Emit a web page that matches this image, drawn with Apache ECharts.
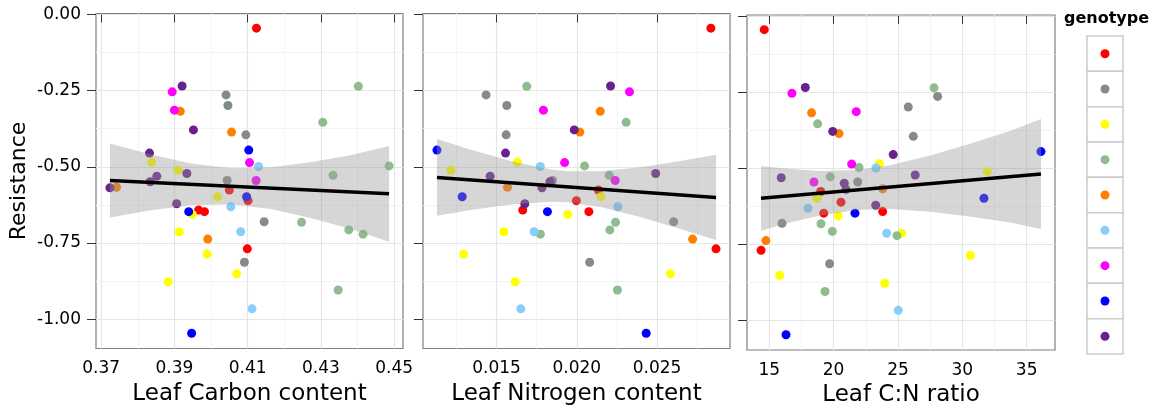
<!DOCTYPE html>
<html><head><meta charset="utf-8">
<script src="https://cdn.jsdelivr.net/npm/echarts@6/dist/echarts.min.js"></script>
<style>html,body{margin:0;padding:0;background:#fff}#c{width:1165px;height:414px}</style>
</head><body><div id="c"></div>
<script>
// ---------------- data ----------------
const genotypes = ['1', '2', '3', '4', '5', '6', '7', '8', '9'];
const genotypeColors = ['#FF0000', '#838B8B', '#FFFF00', '#8FBC8F', '#FF7F00', '#87CEFA', '#FF00FF', '#0000FF', '#68228B'];

// [x, resistance, genotype index]
const carbonPoints = [
  [0.4124,-0.045,0],[0.4050,-0.576,0],[0.4101,-0.611,0],[0.3966,-0.642,0],[0.3982,-0.647,0],[0.4099,-0.769,0],
  [0.4041,-0.264,1],[0.4046,-0.299,1],[0.4095,-0.395,1],[0.4044,-0.545,1],[0.4145,-0.680,1],[0.4091,-0.813,1],
  [0.3838,-0.485,2],[0.3910,-0.511,2],[0.4018,-0.598,2],[0.3949,-0.656,2],[0.3913,-0.713,2],[0.3989,-0.786,2],[0.4070,-0.851,2],[0.3883,-0.877,2],
  [0.4402,-0.236,3],[0.4305,-0.354,3],[0.4486,-0.497,3],[0.4333,-0.528,3],[0.4247,-0.682,3],[0.4376,-0.707,3],[0.4415,-0.721,3],[0.4347,-0.904,3],
  [0.3916,-0.318,4],[0.4056,-0.386,4],[0.3742,-0.567,4],[0.3991,-0.737,4],
  [0.4130,-0.499,5],[0.4054,-0.631,5],[0.4081,-0.713,5],[0.4112,-0.966,5],
  [0.3894,-0.254,6],[0.3900,-0.314,6],[0.4105,-0.486,6],[0.4123,-0.545,6],
  [0.4103,-0.445,7],[0.4097,-0.598,7],[0.3939,-0.647,7],[0.3947,-1.046,7],
  [0.3921,-0.235,8],[0.3952,-0.379,8],[0.3832,-0.455,8],[0.3934,-0.522,8],[0.3852,-0.531,8],[0.3834,-0.549,8],[0.3724,-0.569,8],[0.3906,-0.621,8]
];
const nitrogenPoints = [
  [0.02835,-0.045,0],[0.02134,-0.576,0],[0.01997,-0.611,0],[0.01663,-0.642,0],[0.02075,-0.647,0],[0.02867,-0.769,0],
  [0.01435,-0.264,1],[0.01564,-0.299,1],[0.01560,-0.395,1],[0.01848,-0.545,1],[0.02603,-0.680,1],[0.02080,-0.813,1],
  [0.01630,-0.485,2],[0.01216,-0.511,2],[0.02150,-0.598,2],[0.01943,-0.656,2],[0.01545,-0.713,2],[0.01295,-0.786,2],[0.02583,-0.851,2],[0.01616,-0.877,2],
  [0.01688,-0.236,3],[0.02307,-0.354,3],[0.02048,-0.497,3],[0.02202,-0.528,3],[0.02241,-0.682,3],[0.02206,-0.707,3],[0.01773,-0.721,3],[0.02253,-0.904,3],
  [0.02146,-0.318,4],[0.02019,-0.386,4],[0.01568,-0.567,4],[0.02721,-0.737,4],
  [0.01773,-0.499,5],[0.02255,-0.631,5],[0.01734,-0.713,5],[0.01651,-0.966,5],
  [0.02328,-0.254,6],[0.01792,-0.314,6],[0.01924,-0.486,6],[0.02239,-0.545,6],
  [0.01129,-0.445,7],[0.01286,-0.598,7],[0.01817,-0.647,7],[0.02432,-1.046,7],
  [0.02210,-0.235,8],[0.01984,-0.379,8],[0.01556,-0.455,8],[0.02491,-0.522,8],[0.01460,-0.531,8],[0.01833,-0.549,8],[0.01783,-0.569,8],[0.01676,-0.621,8]
];
const cnPoints = [
  [14.61,-0.045,0],[19.00,-0.576,0],[20.57,-0.611,0],[23.81,-0.642,0],[19.23,-0.647,0],[14.36,-0.769,0],
  [28.08,-0.264,1],[25.80,-0.299,1],[26.19,-0.395,1],[21.87,-0.545,1],[15.99,-0.680,1],[19.69,-0.813,1],
  [23.55,-0.485,2],[31.94,-0.511,2],[18.71,-0.598,2],[20.36,-0.656,2],[25.29,-0.713,2],[30.62,-0.786,2],[15.81,-0.851,2],[23.97,-0.877,2],
  [27.80,-0.236,3],[18.76,-0.354,3],[21.97,-0.497,3],[19.74,-0.528,3],[19.02,-0.682,3],[19.90,-0.707,3],[24.92,-0.721,3],[19.33,-0.904,3],
  [18.29,-0.318,4],[20.42,-0.386,4],[23.81,-0.567,4],[14.74,-0.737,4],
  [23.29,-0.499,5],[18.01,-0.631,5],[24.12,-0.713,5],[25.02,-0.966,5],
  [16.76,-0.254,6],[21.76,-0.314,6],[21.40,-0.486,6],[18.47,-0.545,6],
  [36.11,-0.445,7],[31.68,-0.598,7],[21.66,-0.647,7],[16.30,-1.046,7],
  [17.80,-0.235,8],[19.93,-0.379,8],[24.63,-0.455,8],[26.34,-0.522,8],[15.93,-0.531,8],[20.83,-0.549,8],[20.96,-0.569,8],[23.27,-0.621,8]
];

// confidence band: [x, upper, lower]
const carbonBand = [[0.3724,-0.4234,-0.6659],[0.3836,-0.4599,-0.6426],[0.3945,-0.4890,-0.6259],[0.4054,-0.5048,-0.6227],[0.4163,-0.5015,-0.6384],[0.4271,-0.4848,-0.6675],[0.4380,-0.4618,-0.7029],[0.4486,-0.4320,-0.7460]];
const nitrogenBand = [[0.01129,-0.4091,-0.6607],[0.01340,-0.4438,-0.6417],[0.01589,-0.4812,-0.6233],[0.01837,-0.5090,-0.6145],[0.01943,-0.5149,-0.6164],[0.02148,-0.5149,-0.6315],[0.02396,-0.5011,-0.6643],[0.02645,-0.4808,-0.7036],[0.02867,-0.4605,-0.7403]];
const cnBand = [[14.36,-0.4920,-0.7049],[16.61,-0.5025,-0.6780],[18.94,-0.5087,-0.6548],[21.78,-0.5057,-0.6367],[24.39,-0.4900,-0.6335],[27.49,-0.4582,-0.6423],[30.60,-0.4196,-0.6580],[33.71,-0.3773,-0.6774],[36.11,-0.3383,-0.6987]];

// fitted regression lines (end points)
const carbonFit = [[0.3724,-0.5445],[0.4486,-0.5885]];
const nitrogenFit = [[0.01129,-0.5349],[0.02867,-0.6004]];
const cnFit = [[14.36,-0.5984],[36.11,-0.5184]];

// ticks
const yMajor = [0, -0.25, -0.5, -0.75, -1.0];
const yMinor = [-0.125, -0.375, -0.625, -0.875];
const carbonMajor = [0.37, 0.39, 0.41, 0.43, 0.45];
const carbonMinor = [0.38, 0.40, 0.42, 0.44];
const nitrogenMajor = [0.015, 0.020, 0.025];
const nitrogenMinor = [0.0125, 0.0175, 0.0225, 0.0275];
const cnMajor = [15, 20, 25, 30, 35];
const cnMinor = [17.5, 22.5, 27.5, 32.5];
const xTitles = ['Leaf Carbon content', 'Leaf Nitrogen content', 'Leaf C:N ratio'];
const yTitle = 'Resistance';

// ---------------- chart ----------------
const F = "'DejaVu Sans', sans-serif";
const panels = [
  {pts: carbonPoints, band: carbonBand, fit: carbonFit, maj: carbonMajor, min: carbonMinor, dec: 2, xr: [0.3686, 0.4524], g: {left: 96, top: 13.5, width: 307, height: 335}},
  {pts: nitrogenPoints, band: nitrogenBand, fit: nitrogenFit, maj: nitrogenMajor, min: nitrogenMinor, dec: 3, xr: [0.01042, 0.02954], g: {left: 423, top: 13.5, width: 307, height: 335}},
  {pts: cnPoints, band: cnBand, fit: cnFit, maj: cnMajor, min: cnMinor, dec: 0, xr: [13.27, 37.20], g: {left: 747, top: 15, width: 308, height: 335}}
];
const yRange = [-1.096, 0.003];

const grid = [], xAxis = [], yAxis = [], series = [];
panels.forEach((p, i) => {
  grid.push(Object.assign({show: true, backgroundColor: '#fff', borderColor: '#7F7F7F', borderWidth: 1.2, containLabel: false, outerBoundsMode: 'none'}, p.g));
});
panels.forEach((p, i) => {
  xAxis.push({
    type: 'value', gridIndex: i, min: p.xr[0], max: p.xr[1], position: 'bottom',
    axisLine: {show: false},
    axisTick: {show: true, length: 8, customValues: p.maj, lineStyle: {color: '#333', width: 1}},
    axisLabel: {customValues: p.maj, formatter: v => v.toFixed(p.dec), fontSize: 17, color: '#000', margin: 12, fontFamily: F},
    splitLine: {show: true, lineStyle: {color: '#E5E5E5', width: 1.2}},
    name: xTitles[i], nameLocation: 'middle', nameGap: 31,
    nameTextStyle: {fontSize: 23, color: '#000', fontFamily: F}
  });
  yAxis.push({
    type: 'value', gridIndex: i, min: yRange[0], max: yRange[1],
    axisLine: {show: false},
    axisTick: {show: true, length: 9, customValues: yMajor, lineStyle: {color: '#333', width: 1}},
    axisLabel: {show: i === 0, customValues: yMajor, formatter: v => v.toFixed(2), fontSize: 17, color: '#000', margin: 15, fontFamily: F},
    splitLine: {show: true, lineStyle: {color: '#E5E5E5', width: 1.2}},
    name: i === 0 ? yTitle : '', nameLocation: 'middle', nameGap: 66, nameRotate: 90,
    nameTextStyle: {fontSize: 22, color: '#000', fontFamily: F}
  });
});
panels.forEach((p, i) => {
  xAxis.push({
    type: 'value', gridIndex: i, min: p.xr[0], max: p.xr[1], position: 'top',
    axisLine: {show: false}, axisTick: {show: false, customValues: p.min},
    axisLabel: {show: false, customValues: p.min},
    splitLine: {show: true, lineStyle: {color: '#F4F4F4', width: 1}}
  });
  yAxis.push({
    type: 'value', gridIndex: i, min: yRange[0], max: yRange[1], position: 'right',
    axisLine: {show: false}, axisTick: {show: false, customValues: yMinor},
    axisLabel: {show: false, customValues: yMinor},
    splitLine: {show: true, lineStyle: {color: '#F4F4F4', width: 1}}
  });
});

panels.forEach((p, i) => {
  genotypes.forEach((g, k) => {
    series.push({
      type: 'scatter', name: g, xAxisIndex: i, yAxisIndex: i, z: 2,
      symbolSize: 9, itemStyle: {color: genotypeColors[k], opacity: 1},
      data: p.pts.filter(d => d[2] === k).map(d => [d[0], d[1]]),
      emphasis: {disabled: true}
    });
  });
  const band = p.band;
  series.push({
    type: 'custom', xAxisIndex: i, yAxisIndex: i, z: 3, silent: true,
    data: band, encode: {x: 0, y: [1, 2]},
    renderItem: function (params, api) {
      if (params.dataIndex !== 0) return null;
      const up = band.map(r => api.coord([r[0], r[1]]));
      const lo = band.slice().reverse().map(r => api.coord([r[0], r[2]]));
      return {type: 'polygon', shape: {points: up.concat(lo)}, style: {fill: 'rgba(153,153,153,0.4)'}};
    }
  });
  series.push({
    type: 'line', xAxisIndex: i, yAxisIndex: i, z: 4, silent: true,
    data: p.fit, symbol: 'none', lineStyle: {color: '#000', width: 3.5}
  });
});

const boxes = genotypes.map((g, k) => ({
  type: 'rect', shape: {x: 1087, y: 36 + k * 35.33, width: 36, height: 35.33},
  style: {fill: '#fff', stroke: '#CCCCCC', lineWidth: 1.5}, silent: true
}));

const chart = echarts.init(document.getElementById('c'), null, {renderer: 'canvas'});
chart.setOption({
  animation: false,
  backgroundColor: '#fff',
  title: {text: 'genotype', left: 1064, top: 11, padding: 0, textStyle: {fontSize: 16, fontWeight: 'bold', color: '#000', fontFamily: F}},
  legend: {
    data: genotypes, orient: 'vertical', left: 1100.5, top: 49.2, padding: 0,
    itemWidth: 9, itemHeight: 9, itemGap: 26.33, icon: 'circle', selectedMode: false,
    formatter: () => '', textStyle: {fontSize: 9, lineHeight: 9}
  },
  graphic: {elements: boxes},
  grid, xAxis, yAxis, series
});
</script>
</body></html>
